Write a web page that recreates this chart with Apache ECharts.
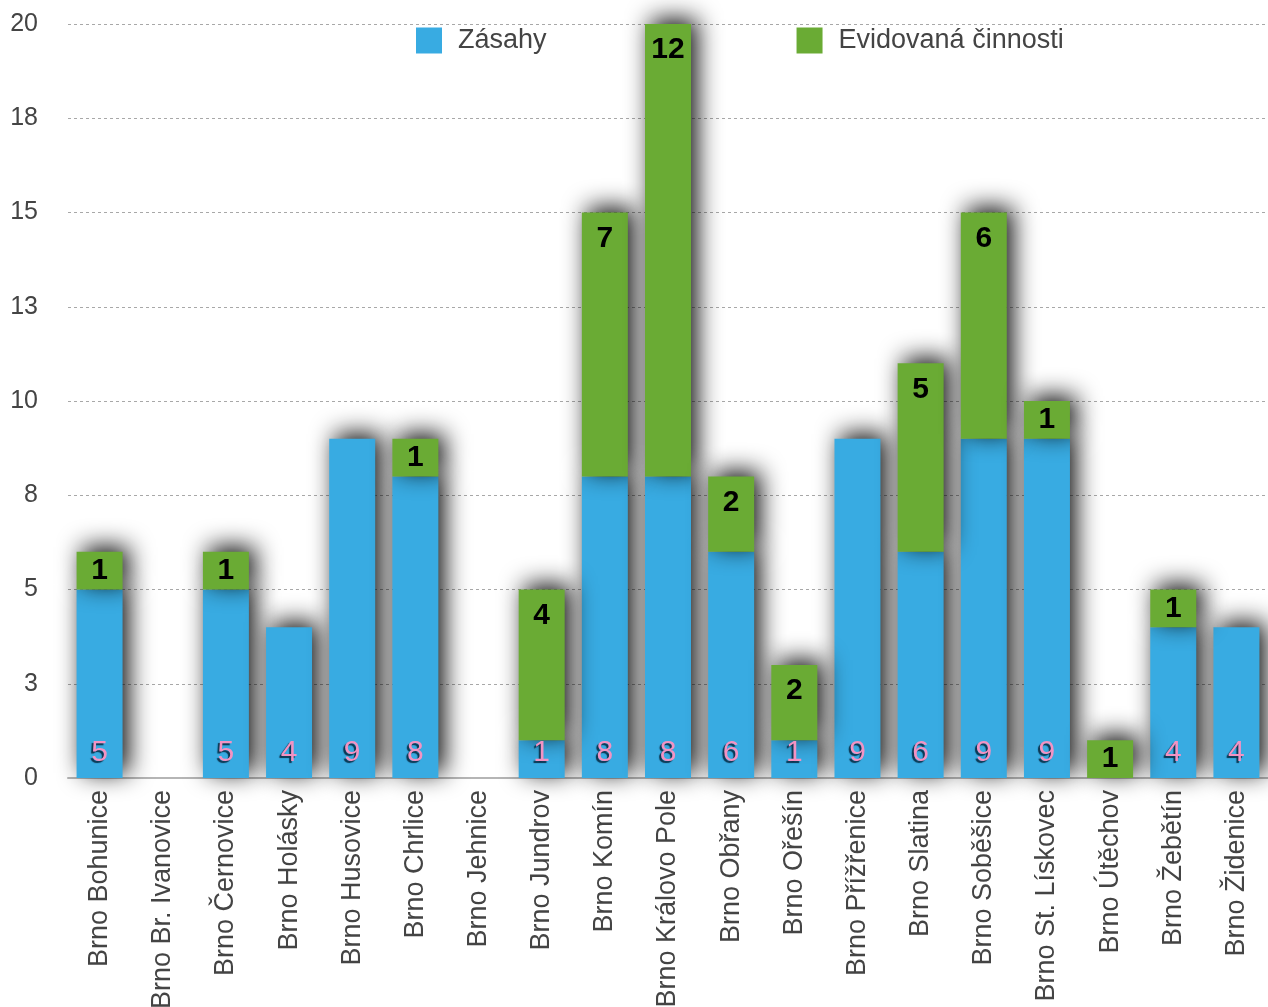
<!DOCTYPE html>
<html>
<head>
<meta charset="utf-8">
<script src="https://cdn.jsdelivr.net/npm/echarts@6/dist/echarts.min.js"></script>
<style>html,body{margin:0;padding:0;background:#fff}#c{width:1268px;height:1007px}</style>
</head>
<body>
<div id="c"></div>
<script>
const categories = ["Brno Bohunice","Brno Br. Ivanovice","Brno Černovice","Brno Holásky","Brno Husovice","Brno Chrlice","Brno Jehnice","Brno Jundrov","Brno Komín","Brno Královo Pole","Brno Obřany","Brno Ořešín","Brno Přížřenice","Brno Slatina","Brno Soběšice","Brno St. Lískovec","Brno Útěchov","Brno Žebětín","Brno Židenice"];
const zasahy = [5,0,5,4,9,8,0,1,8,8,6,1,9,6,9,9,0,4,4];
const evidovane = [1,0,1,0,0,1,0,4,7,12,2,2,0,5,6,1,1,1,0];
const seriesNames = ["Zásahy","Evidovaná činnosti"];

const font = "'Liberation Sans', Arial, Helvetica, sans-serif";
const chart = echarts.init(document.getElementById('c'));
const shadow = {shadowBlur: 24, shadowColor: 'rgba(0,0,0,0.95)', shadowOffsetX: 6, shadowOffsetY: -5};
chart.setOption({
  animation: false,
  textStyle: {fontFamily: font},
  legend: {
    left: 416, top: 27, padding: 0, itemGap: 250, itemWidth: 26, itemHeight: 26, icon: 'rect',
    textStyle: {fontSize: 27, color: '#444', fontFamily: font, padding: [0,0,0,11]},
    data: seriesNames
  },
  grid: {left: 68, right: 0, top: 24, bottom: 229, containLabel: false, outerBoundsMode: 'none'},
  xAxis: {
    type: 'category', data: categories,
    axisLine: {lineStyle: {color: '#b5b5b5', width: 2}},
    axisTick: {show: false},
    axisLabel: {rotate: 90, margin: 12, fontSize: 27, color: '#444', fontFamily: font, interval: 0}
  },
  yAxis: {
    type: 'value', min: 0, max: 20, interval: 2.5,
    axisLine: {show: false}, axisTick: {show: false},
    axisLabel: {margin: 30, fontSize: 25, color: '#444', fontFamily: font, formatter: v => String(Math.round(v))},
    splitLine: {lineStyle: {color: '#a8a8a8', type: [3, 3], width: 1}}
  },
  series: [
    {
      name: seriesNames[0], type: 'bar', stack: 's', data: zasahy, barWidth: 46,
      itemStyle: Object.assign({color: '#38abe2'}, shadow),
      label: {
        show: true, position: 'insideBottom', distance: 10,
        formatter: p => p.value ? String(p.value) : '',
        fontSize: 30, color: '#f393c3', fontFamily: font,
        textShadowColor: '#0b3550', textShadowOffsetX: -2, textShadowOffsetY: 2, textShadowBlur: 1
      }
    },
    {
      name: seriesNames[1], type: 'bar', stack: 's', barWidth: 46,
      data: evidovane.map(v => v === 1 ? {value: v, label: {position: 'inside'}} : v),
      itemStyle: Object.assign({color: '#6aab34'}, shadow),
      label: {
        show: true, position: 'insideTop', distance: 11,
        formatter: p => p.value ? String(p.value) : '',
        fontSize: 30, fontWeight: 'bold', color: '#000', fontFamily: font
      }
    }
  ]
});
</script>
</body>
</html>
